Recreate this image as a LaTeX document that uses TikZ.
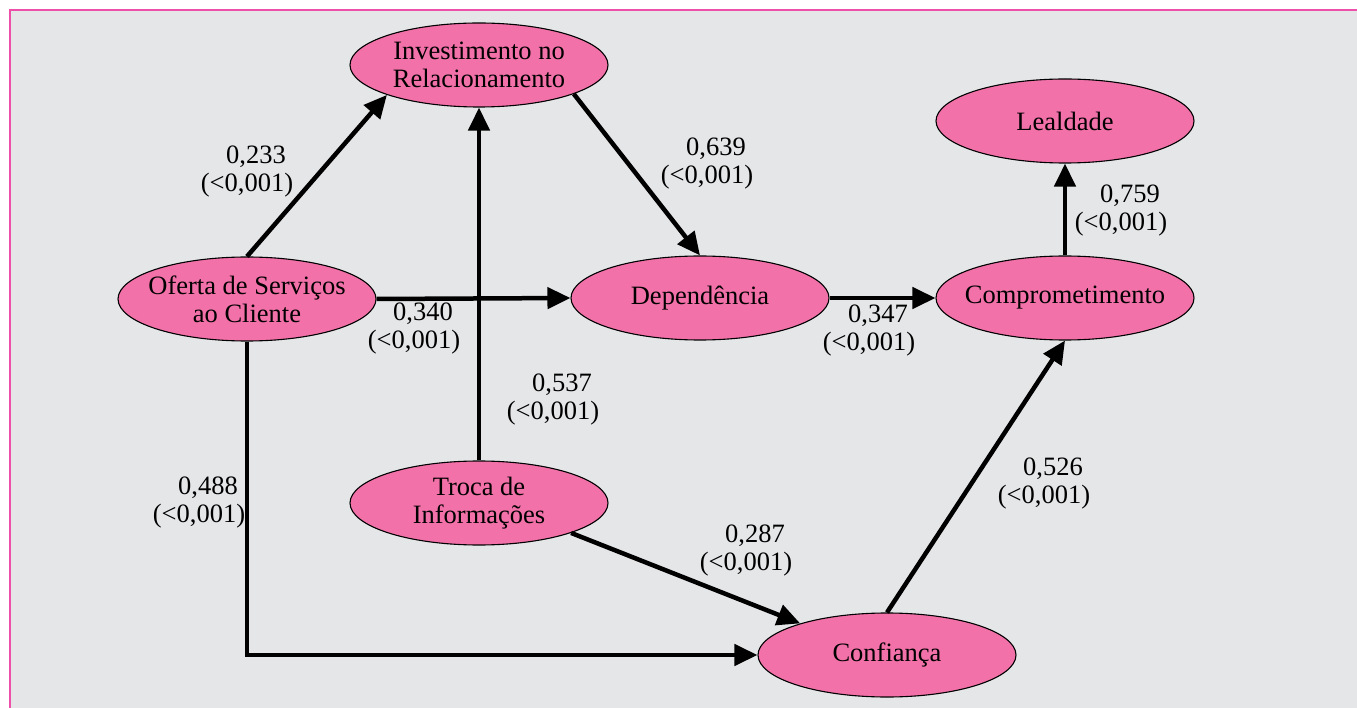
\documentclass[tikz,border=0pt]{standalone}
\usepackage{fontspec}
\setmainfont{Liberation Serif}
\usetikzlibrary{shapes.geometric,arrows.meta}
\definecolor{panel}{HTML}{E5E6E8}
\definecolor{frame}{HTML}{EE4FA9}
\definecolor{bubble}{HTML}{F271A9}
% coefficient with its p-value below it
\newcommand{\coef}[1]{\hspace*{18pt}#1\\(<0,001)}
\begin{document}
\begin{tikzpicture}[x=1pt,y=-1pt,
  every node/.style={font=\fontsize{26.5}{28}\selectfont},
  construct/.style={ellipse, draw=black, line width=1.1pt, fill=bubble,
    minimum width=258pt, minimum height=84pt, inner sep=0pt},
  txt/.style={align=center, inner sep=0pt},
  path/.style={line width=4.5pt, -{Triangle[length=23pt,width=21pt]}},
  coefnode/.style={align=center, inner sep=0pt}]
  \useasboundingbox (0,0) rectangle (1357,708);
  \fill[white] (0,0) rectangle (1357,708);
  \fill[panel] (10,10) rectangle (1357,708);
  \draw[frame, line width=2.5pt] (10,708) -- (10,10) -- (1357,10);

  % constructs
  \node[construct, label={[txt]center:{Investimento no\\Relacionamento}}] (inv) at (479,65) {};
  \node[construct, label={[txt]center:Lealdade}] (lea) at (1065,121) {};
  \node[construct, label={[txt]center:{Oferta de Serviços\\ao Cliente}}] (ofe) at (247,299) {};
  \node[construct, label={[txt]center:Dependência}] (dep) at (700,298) {};
  \node[construct, label={[txt]center:Comprometimento}] (com) at (1065,298) {};
  \node[construct, label={[txt]center:{Troca de\\Informações}}] (tro) at (479,503) {};
  \node[construct, label={[txt]center:Confiança}] (con) at (887,655) {};

  % structural paths
  \draw[path] (ofe.north) -- (inv.198);
  \draw[path] (ofe.east) -- (dep.west);
  \draw[path] (ofe.south) |- (con.west);
  \draw[path] (tro.north) -- (inv.south);
  \draw[path] (inv.-17) -- (dep.north);
  \draw[path] (dep.east) -- (com.west);
  \draw[path] (com.north) -- (lea.south);
  \draw[path] (tro.-18) -- (con.160);
  \draw[path] (con.north) -- (com.south);

  % path coefficients
  \node[coefnode] (c1) at (247,172) {\coef{0,233}};
  \node[coefnode] (c2) at (414,329) {\coef{0,340}};
  \node[coefnode] (c3) at (707,164) {\coef{0,639}};
  \node[coefnode] (c4) at (869,331) {\coef{0,347}};
  \node[coefnode] (c5) at (1121,211) {\coef{0,759}};
  \node[coefnode] (c6) at (553,400) {\coef{0,537}};
  \node[coefnode] (c7) at (199,503) {\coef{0,488}};
  \node[coefnode] (c8) at (746,551) {\coef{0,287}};
  \node[coefnode] (c9) at (1044,484) {\coef{0,526}};
\end{tikzpicture}
\end{document}
